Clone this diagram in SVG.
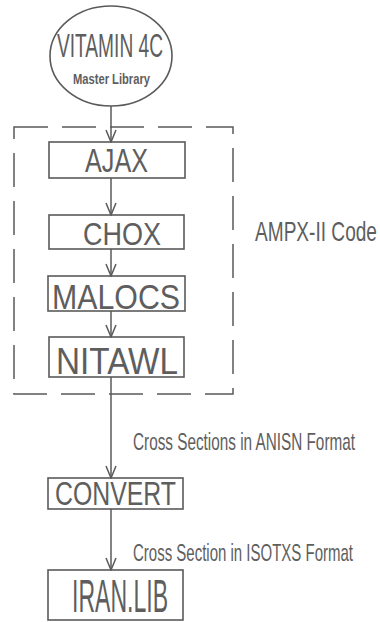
<svg xmlns="http://www.w3.org/2000/svg" width="380" height="622" viewBox="0 0 380 622">
<style>
.box{fill:none;stroke:#5a5a5a;stroke-width:1.6}
.t{font-family:"Liberation Sans",Arial,sans-serif;fill:#5e5e5e}
.con{fill:none;stroke:#5a5a5a;stroke-width:1.5}
</style>
<defs>
<marker id="ah" viewBox="0 0 14 12" refX="13" refY="6" markerWidth="14" markerHeight="12" markerUnits="userSpaceOnUse" orient="auto">
<path d="M1,1 L13,6 L1,11" fill="none" stroke="#5a5a5a" stroke-width="1.5"/>
</marker>
</defs>
<rect width="380" height="622" fill="#fff"/>
<g id="ampx-group">
<rect x="14" y="127" width="219" height="267" fill="none" stroke="#5a5a5a" stroke-width="1.5" stroke-dasharray="34 14"/>
<text class="t" transform="translate(255,241) scale(1,1.45)" font-size="19" textLength="122" lengthAdjust="spacingAndGlyphs">AMPX-II Code</text>
</g>
<g id="connectors">
<line class="con" x1="111" y1="106" x2="111" y2="142" marker-end="url(#ah)"/>
<line class="con" x1="111" y1="178" x2="111" y2="215" marker-end="url(#ah)"/>
<line class="con" x1="111" y1="249" x2="111" y2="276" marker-end="url(#ah)"/>
<line class="con" x1="111" y1="311" x2="111" y2="337" marker-end="url(#ah)"/>
<line class="con" x1="111" y1="377" x2="111" y2="478" marker-end="url(#ah)"/>
<line class="con" x1="111" y1="509" x2="111" y2="570" marker-end="url(#ah)"/>
<text class="t" transform="translate(133,450) scale(1,1.6)" font-size="15" textLength="222" lengthAdjust="spacingAndGlyphs">Cross Sections in ANISN Format</text>
<text class="t" transform="translate(133,561) scale(1,1.6)" font-size="15" textLength="220" lengthAdjust="spacingAndGlyphs">Cross Section in ISOTXS Format</text>
</g>
<g id="vitamin">
<ellipse class="box" cx="111" cy="56" rx="61" ry="50"/>
<text class="t" transform="translate(57,57) scale(1,1.78)" font-size="18.9" textLength="106" lengthAdjust="spacingAndGlyphs">VITAMIN 4C</text>
<text class="t" transform="translate(73,84) scale(1,1.37)" font-size="11" font-weight="bold" textLength="77" lengthAdjust="spacingAndGlyphs">Master Library</text>
</g>
<g id="ajax">
<rect class="box" x="49" y="142" width="136" height="36"/>
<text class="t" transform="translate(85,172) scale(1,1.33)" font-size="25" textLength="63" lengthAdjust="spacingAndGlyphs">AJAX</text>
</g>
<g id="chox">
<rect class="box" x="49" y="215" width="135" height="34"/>
<text class="t" transform="translate(83,245) scale(1,1.14)" font-size="27" textLength="78" lengthAdjust="spacingAndGlyphs">CHOX</text>
</g>
<g id="malocs">
<rect class="box" x="48" y="276" width="137" height="35"/>
<text class="t" transform="translate(52,309) scale(1,1.15)" font-size="30" textLength="128" lengthAdjust="spacingAndGlyphs">MALOCS</text>
</g>
<g id="nitawl">
<rect class="box" x="49" y="337" width="135" height="40"/>
<text class="t" transform="translate(56,374) scale(1,1.17)" font-size="32" textLength="122" lengthAdjust="spacingAndGlyphs">NITAWL</text>
</g>
<g id="convert">
<rect class="box" x="48" y="478" width="135" height="31"/>
<text class="t" transform="translate(55,505) scale(1,1.36)" font-size="24.5" textLength="121" lengthAdjust="spacingAndGlyphs">CONVERT</text>
</g>
<g id="iranlib">
<rect class="box" x="48" y="570" width="135" height="50"/>
<text class="t" transform="translate(72,612) scale(1,2.0)" font-size="23" textLength="96" lengthAdjust="spacingAndGlyphs">IRAN.LIB</text>
</g>
</svg>
